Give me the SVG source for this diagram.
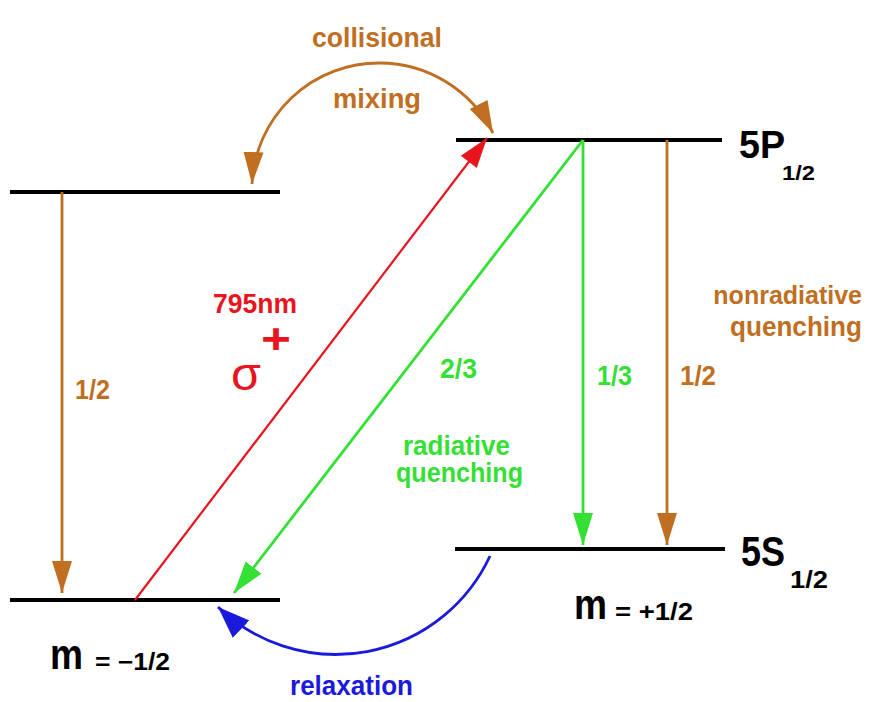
<svg xmlns="http://www.w3.org/2000/svg" width="876" height="702" viewBox="0 0 876 702">
<style>
text{font-family:"Liberation Sans",Arial,sans-serif;}
.lvl{stroke:#000;stroke-width:4;fill:none}
.br{stroke:#BF6F1F;fill:none;stroke-width:2.8}
.gr{stroke:#33E033;fill:none;stroke-width:2.8}
.rd{stroke:#E8141E;fill:none;stroke-width:2.2}
.bl{stroke:#1A1ADC;fill:none;stroke-width:2.8}
.tb{fill:#BF6F1F;font-weight:bold}
.tg{fill:#33E033;font-weight:bold}
.tr{fill:#E8141E}
.tbl{fill:#1A1ADC;font-weight:bold}
.tk{fill:#000;font-weight:bold}
</style>
<defs>
<marker id="ab" markerUnits="userSpaceOnUse" markerWidth="34" markerHeight="24" viewBox="-32 -12 34 24" refX="0" refY="0" orient="auto"><path d="M0,0 L-32,-10 L-32,10 Z" fill="#BF6F1F"/></marker>
<marker id="ag" markerUnits="userSpaceOnUse" markerWidth="34" markerHeight="24" viewBox="-32 -12 34 24" refX="0" refY="0" orient="auto"><path d="M0,0 L-32,-10 L-32,10 Z" fill="#33E033"/></marker>
<marker id="ar" markerUnits="userSpaceOnUse" markerWidth="34" markerHeight="24" viewBox="-32 -12 34 24" refX="0" refY="0" orient="auto"><path d="M0,0 L-30,-10 L-30,10 Z" fill="#E8141E"/></marker>
<marker id="abl" markerUnits="userSpaceOnUse" markerWidth="34" markerHeight="26" viewBox="-32 -13 34 26" refX="0" refY="0" orient="auto"><path d="M0,0 L-32,-12 L-32,12 Z" fill="#1A1ADC"/></marker>
</defs>
<g id="level-upper-left"><line class="lvl" x1="10" y1="192" x2="280" y2="192"/></g>
<g id="level-lower-left"><line class="lvl" x1="10" y1="600" x2="280" y2="600"/>
<text class="tk" x="50" y="669" font-size="42" textLength="33" lengthAdjust="spacingAndGlyphs">m</text>
<text class="tk" x="95" y="670" font-size="24" textLength="75" lengthAdjust="spacingAndGlyphs">= −1/2</text></g>
<g id="level-5P"><line class="lvl" x1="456" y1="140" x2="722" y2="140"/>
<text class="tk" x="739" y="158" font-size="39" textLength="46" lengthAdjust="spacingAndGlyphs">5P</text>
<text class="tk" x="782" y="180" font-size="21" textLength="33" lengthAdjust="spacingAndGlyphs">1/2</text></g>
<g id="level-5S"><line class="lvl" x1="455" y1="549" x2="725" y2="549"/>
<text class="tk" x="741" y="566" font-size="42" textLength="44" lengthAdjust="spacingAndGlyphs">5S</text>
<text class="tk" x="790" y="588" font-size="24" textLength="38" lengthAdjust="spacingAndGlyphs">1/2</text>
<text class="tk" x="574" y="619" font-size="42" textLength="33" lengthAdjust="spacingAndGlyphs">m</text>
<text class="tk" x="615" y="620" font-size="24" textLength="78" lengthAdjust="spacingAndGlyphs">= +1/2</text></g>
<g id="connectors">
<line class="br" x1="62" y1="192" x2="62" y2="593" marker-end="url(#ab)"/>
<line class="br" x1="667" y1="140" x2="667" y2="545" marker-end="url(#ab)"/>
<line class="gr" x1="583" y1="140" x2="583" y2="545" marker-end="url(#ag)"/>
<line class="gr" x1="583" y1="140" x2="234" y2="593" marker-end="url(#ag)"/>
<line class="rd" x1="135" y1="600" x2="487" y2="138" marker-end="url(#ar)"/>
<path class="br" d="M 380,63 A 127 127 0 0 0 252,184" marker-end="url(#ab)"/>
<path class="br" d="M 380,63 A 127 127 0 0 1 493,133" marker-end="url(#ab)"/>
<path class="bl" d="M 490,556 A 170 170 0 0 1 218,607" marker-end="url(#abl)"/>
</g>
<g id="labels">
<text class="tb" x="312" y="47" font-size="27" textLength="130" lengthAdjust="spacingAndGlyphs">collisional</text>
<text class="tb" x="333" y="108" font-size="27" textLength="88" lengthAdjust="spacingAndGlyphs">mixing</text>
<text class="tr" x="213" y="313" font-size="27" font-weight="bold" textLength="84" lengthAdjust="spacingAndGlyphs">795nm</text>
<text class="tr" x="231" y="390" font-size="46" textLength="30" lengthAdjust="spacingAndGlyphs">σ</text>
<text class="tr" x="261" y="353" font-size="42" font-weight="bold" textLength="30" lengthAdjust="spacingAndGlyphs">+</text>
<text class="tb" x="75" y="399" font-size="27" textLength="35" lengthAdjust="spacingAndGlyphs">1/2</text>
<text class="tg" x="440" y="378" font-size="27" textLength="37" lengthAdjust="spacingAndGlyphs">2/3</text>
<text class="tg" x="597" y="385" font-size="27" textLength="35" lengthAdjust="spacingAndGlyphs">1/3</text>
<text class="tb" x="680" y="385" font-size="27" textLength="36" lengthAdjust="spacingAndGlyphs">1/2</text>
<text class="tg" x="403" y="455" font-size="27" textLength="107" lengthAdjust="spacingAndGlyphs">radiative</text>
<text class="tg" x="396" y="482" font-size="27" textLength="127" lengthAdjust="spacingAndGlyphs">quenching</text>
<text class="tb" x="862" y="304" font-size="25" text-anchor="end">nonradiative</text>
<text class="tb" x="730" y="336" font-size="27" textLength="132" lengthAdjust="spacingAndGlyphs">quenching</text>
<text class="tbl" x="290" y="695" font-size="27" textLength="123" lengthAdjust="spacingAndGlyphs">relaxation</text>
</g>
</svg>
